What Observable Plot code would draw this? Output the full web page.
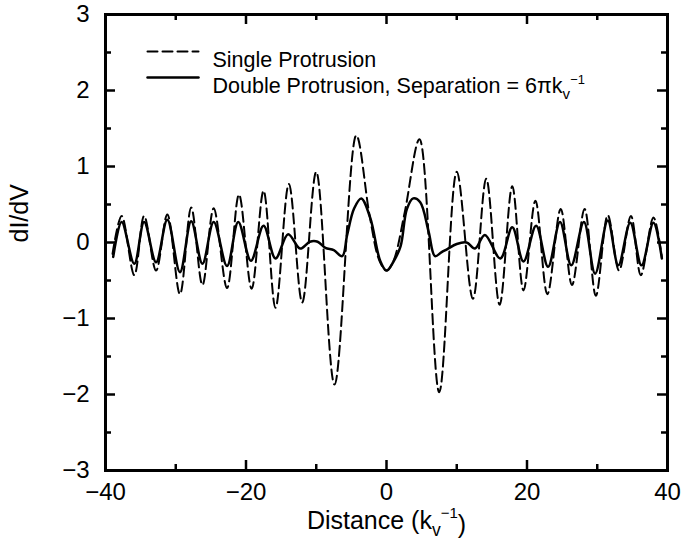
<!DOCTYPE html>
<html><head><meta charset="utf-8">
<script src="https://cdn.jsdelivr.net/npm/d3@7"></script>
<script src="https://cdn.jsdelivr.net/npm/@observablehq/plot@0.6"></script>
<style>body{margin:0;background:#fff}</style>
</head><body><div id="chart"></div>
<script>
// Single protrusion (dashed)
const singleX = [-39.0,-37.7,-35.9,-34.5,-32.8,-31.2,-29.4,-27.8,-26.2,-24.6,-22.7,-21.0,-19.2,-17.5,-15.8,-13.9,-12.0,-10.0,-7.4,-4.3,-2.4,-1.0,0,1.0,2.6,4.7,7.5,10.0,12.3,14.2,16.1,17.9,19.5,21.2,22.9,24.8,26.4,28.2,29.8,31.5,33.1,34.8,36.2,38.0,39.2];
const singleY = [-0.15,0.35,-0.43,0.35,-0.37,0.37,-0.68,0.46,-0.56,0.45,-0.60,0.63,-0.61,0.68,-0.86,0.77,-0.79,0.93,-1.87,1.41,0.35,-0.24,-0.37,-0.24,0.40,1.36,-1.97,0.93,-0.74,0.84,-0.82,0.74,-0.63,0.55,-0.68,0.44,-0.56,0.44,-0.70,0.36,-0.37,0.35,-0.43,0.33,-0.20];
// Double protrusion (solid)
const doubleX = [-38.9,-37.7,-35.9,-34.5,-32.8,-31.2,-29.4,-27.8,-26.2,-24.6,-22.7,-21.1,-19.3,-17.5,-15.8,-14.0,-12.3,-10.9,-9.8,-8.7,-7.5,-6.3,-5.6,-4.6,-3.6,-2.3,-0.9,0,1.0,2.0,2.9,3.8,4.8,6.0,6.9,7.8,8.6,10.0,11.4,12.6,14.0,16.2,17.9,19.5,21.3,23.0,24.7,26.3,28.1,29.7,31.5,33.0,34.7,36.3,38.0,39.2];
const doubleY = [-0.19,0.27,-0.28,0.27,-0.26,0.30,-0.39,0.28,-0.28,0.27,-0.31,0.27,-0.24,0.22,-0.21,0.11,-0.08,0.01,0.01,-0.07,-0.10,-0.18,0.10,0.45,0.58,0.32,-0.24,-0.37,-0.25,-0.05,0.44,0.58,0.53,0.14,-0.18,-0.13,-0.09,-0.02,0.0,-0.08,0.10,-0.21,0.20,-0.25,0.22,-0.32,0.27,-0.30,0.27,-0.41,0.29,-0.30,0.26,-0.30,0.26,-0.21];

const xMajorTicks = [-40,-20,0,20,40];
const xMinorTicks = [-30,-10,10,30];
const yMajorTicks = [-3,-2,-1,0,1,2,3];
const yMinorTicks = [-2.5,-1.5,-0.5,0.5,1.5,2.5];
const legendLabels = ["Single Protrusion", "Double Protrusion, Separation = 6πk"];
const xTitle = "Distance (k";
const yTitle = "dI/dV";

const single = singleX.map((x, i) => ({x, y: singleY[i]}));
const double = doubleX.map((x, i) => ({x, y: doubleY[i]}));

const W = 698, H = 551, ML = 105, MR = 31, MT = 14, MB = 81;
const innerW = W - ML - MR, innerH = H - MT - MB;

const lineShape = {draw(context, l) { context.moveTo(0, 0); context.lineTo(0, -l); }};
const fmt = d => (d < 0 ? "\u2212" + Math.abs(d) : String(d));
const font = "'Liberation Sans', Arial, Helvetica, sans-serif";
const tickStyle = {stroke: "black", strokeWidth: 2.5};
const MAJ = 10, MIN = 6;

const plot = Plot.plot({
  width: W, height: H,
  marginLeft: ML, marginRight: MR, marginTop: MT, marginBottom: MB,
  x: {domain: [-40, 40]},
  y: {domain: [-3, 3]},
  style: {fontFamily: font, fontSize: "24px", color: "black", background: "white"},
  marks: [
    Plot.line(single, {x: "x", y: "y", curve: "catmull-rom", stroke: "black", strokeWidth: 2, strokeDasharray: "10,5"}),
    Plot.line(double, {x: "x", y: "y", curve: "catmull-rom", stroke: "black", strokeWidth: 2.5}),
    // tick labels
    Plot.axisX({anchor: "bottom", ticks: xMajorTicks, tickSize: 0, tickPadding: 12, tickFormat: fmt, fontSize: 24, label: null}),
    Plot.axisY({anchor: "left", ticks: yMajorTicks, tickSize: 0, tickPadding: 16, tickFormat: fmt, fontSize: 24, label: null}),
    // inward ticks (bottom, top, left, right)
    Plot.ruleX(xMajorTicks, {x: d => d, insetTop: innerH - MAJ, ...tickStyle}),
    Plot.ruleX(xMinorTicks, {x: d => d, insetTop: innerH - MIN, ...tickStyle}),
    Plot.ruleX(xMajorTicks, {x: d => d, insetBottom: innerH - MAJ, ...tickStyle}),
    Plot.ruleX(xMinorTicks, {x: d => d, insetBottom: innerH - MIN, ...tickStyle}),
    Plot.ruleY(yMajorTicks, {y: d => d, insetRight: innerW - MAJ, ...tickStyle}),
    Plot.ruleY(yMinorTicks, {y: d => d, insetRight: innerW - MIN, ...tickStyle}),
    Plot.ruleY(yMajorTicks, {y: d => d, insetLeft: innerW - MAJ, ...tickStyle}),
    Plot.ruleY(yMinorTicks, {y: d => d, insetLeft: innerW - MIN, ...tickStyle}),
    Plot.frame({stroke: "black", strokeWidth: 3}),
    // titles
    Plot.text([xTitle], {frameAnchor: "bottom", dy: 58, fontSize: 25, text: d => d}),
    Plot.text([yTitle], {frameAnchor: "left", dx: -86, rotate: -90, fontSize: 25, text: d => d}),
    // legend
    Plot.vector([0], {frameAnchor: "top-left", dx: 42, dy: 37, length: 51, rotate: 90, anchor: "start", shape: lineShape, stroke: "black", strokeWidth: 2, strokeDasharray: "10,5"}),
    Plot.vector([0], {frameAnchor: "top-left", dx: 42, dy: 63, length: 51, rotate: 90, anchor: "start", shape: lineShape, stroke: "black", strokeWidth: 2.5}),
    Plot.text([legendLabels[0]], {frameAnchor: "top-left", dx: 107, dy: 37, textAnchor: "start", fontSize: 21.5, text: d => d}),
    Plot.text([legendLabels[1]], {frameAnchor: "top-left", dx: 107, dy: 63, textAnchor: "start", fontSize: 21.5, text: d => d})
  ]
});
document.getElementById("chart").appendChild(plot);

function addSubSup(str) {
  d3.select(plot).selectAll("text").filter(function() { return this.textContent === str; })
    .each(function() {
      const t = d3.select(this);
      t.append("tspan").attr("dy", "0.4em").attr("font-size", "0.7em").text("v");
      t.append("tspan").attr("dy", "-1.15em").attr("font-size", "0.6em").text("\u22121");
      if (str === xTitle) t.append("tspan").attr("dy", "0.6em").text(")");
    });
}
addSubSup(xTitle);
addSubSup(legendLabels[1]);
</script>
</body></html>
